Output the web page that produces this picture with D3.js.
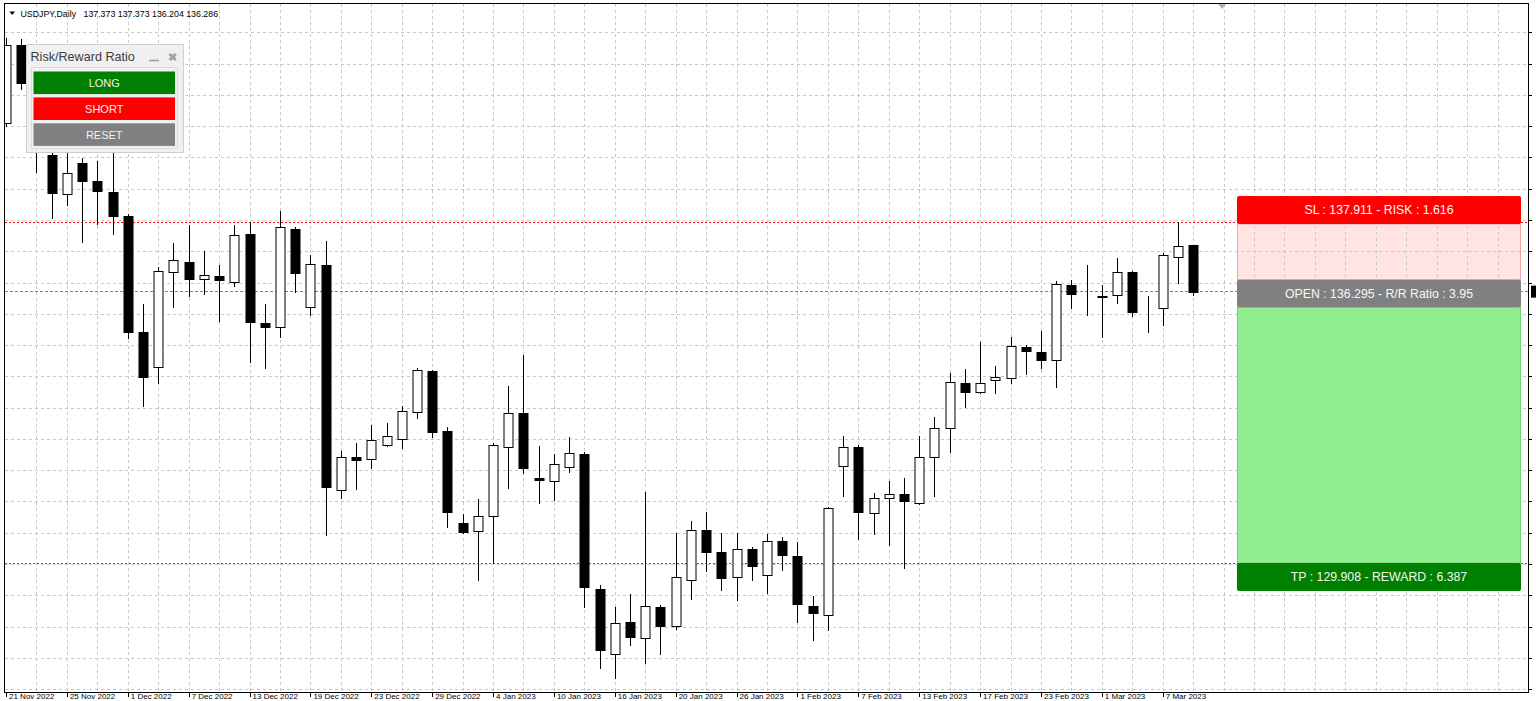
<!DOCTYPE html>
<html>
<head>
<meta charset="utf-8">
<script src="https://cdn.jsdelivr.net/npm/d3@7"></script>
<style>
html,body{margin:0;padding:0;background:#fff;overflow:hidden;}
svg{display:block;}
</style>
</head>
<body>
<svg id="chart" width="1536" height="701"></svg>
<script>
// ---------------- DATA ----------------
const dates = ["2022-11-21","2022-11-22","2022-11-23","2022-11-24","2022-11-25","2022-11-28","2022-11-29","2022-11-30","2022-12-01","2022-12-02",
"2022-12-05","2022-12-06","2022-12-07","2022-12-08","2022-12-09","2022-12-12","2022-12-13","2022-12-14","2022-12-15","2022-12-16",
"2022-12-19","2022-12-20","2022-12-21","2022-12-22","2022-12-23","2022-12-26","2022-12-27","2022-12-28","2022-12-29","2022-12-30",
"2023-01-02","2023-01-03","2023-01-04","2023-01-05","2023-01-06","2023-01-09","2023-01-10","2023-01-11","2023-01-12","2023-01-13",
"2023-01-16","2023-01-17","2023-01-18","2023-01-19","2023-01-20","2023-01-23","2023-01-24","2023-01-25","2023-01-26","2023-01-27",
"2023-01-30","2023-01-31","2023-02-01","2023-02-02","2023-02-03","2023-02-06","2023-02-07","2023-02-08","2023-02-09","2023-02-10",
"2023-02-13","2023-02-14","2023-02-15","2023-02-16","2023-02-17","2023-02-20","2023-02-21","2023-02-22","2023-02-23","2023-02-24",
"2023-02-27","2023-02-28","2023-03-01","2023-03-02","2023-03-03","2023-03-06","2023-03-07","2023-03-08","2023-03-09"];

const opens = [140.249,142.082,141.182,139.497,138.574,139.317,138.886,138.635,138.064,135.330,
134.522,136.740,136.990,136.576,136.653,136.520,137.641,135.556,135.462,137.751,
135.918,136.912,131.624,132.392,132.345,132.674,132.823,133.450,134.421,133.018,
130.856,130.667,131.013,132.628,133.441,131.899,131.843,132.172,132.470,129.297,
127.770,128.513,128.153,128.882,128.428,129.509,130.684,130.174,129.587,130.237,
129.626,130.433,130.080,128.905,128.686,132.195,132.642,131.076,131.443,131.530,
131.326,132.392,133.088,134.146,133.934,134.209,134.248,134.993,134.875,134.679,
136.442,136.207,136.190,136.207,136.740,135.926,135.909,137.093,137.373];

const highs = [142.247,142.216,141.600,139.800,139.600,139.419,139.363,139.800,138.110,135.995,
136.858,137.422,137.852,137.248,136.912,137.852,137.930,135.995,138.181,137.798,
137.147,137.483,132.541,132.722,133.152,133.192,133.605,134.484,134.444,133.097,
131.060,131.406,132.722,134.068,134.797,132.658,132.470,132.877,132.520,129.391,
128.882,129.172,131.584,128.920,130.620,130.903,131.114,130.606,130.620,130.290,
130.583,130.527,130.409,129.133,131.230,132.900,132.690,131.546,131.843,131.899,
132.900,133.333,134.367,134.468,135.109,134.546,135.228,135.030,135.361,136.536,
136.559,136.912,136.442,137.084,136.760,136.183,137.201,137.911,137.373];

const lows = [140.179,141.041,139.105,138.023,138.322,137.460,137.868,137.633,135.189,133.598,
134.132,135.932,136.191,136.223,135.596,136.418,134.639,134.499,135.227,136.284,
135.737,130.567,131.429,131.640,132.134,132.658,132.618,133.309,132.862,130.762,
130.620,129.509,129.915,131.678,132.016,131.311,131.389,132.054,128.867,127.448,
127.213,127.981,127.565,127.770,128.350,129.055,129.720,129.274,129.039,129.509,
129.196,129.744,128.529,128.099,128.334,131.490,130.472,130.583,130.332,129.798,
131.300,131.490,132.524,133.582,133.900,133.910,134.132,134.343,134.484,134.052,
135.894,135.737,135.227,136.012,135.721,135.344,135.502,136.482,136.204];

const closes = [142.082,141.182,139.600,138.611,139.067,138.886,138.651,138.071,135.330,134.287,
136.771,137.029,136.583,136.677,136.559,137.617,135.572,135.462,137.798,136.717,
136.928,131.702,132.407,132.329,132.799,132.900,133.481,134.444,132.994,131.100,
130.630,131.020,132.682,133.427,132.134,131.859,132.228,132.487,129.337,127.864,
128.505,128.176,128.898,128.435,129.587,130.684,130.174,129.563,130.237,129.838,
130.433,130.096,128.938,128.726,131.194,132.642,131.100,131.443,131.530,131.373,
132.407,133.074,134.155,133.934,134.146,134.272,135.017,134.899,134.679,136.465,
136.223,136.200,136.170,136.740,135.814,135.936,137.147,137.366,136.286];

const priceTicks = [126.945,127.680,128.415,129.150,129.885,130.620,131.355,132.090,132.825,133.560,
134.295,135.030,135.765,136.500,137.235,137.970,138.705,139.440,140.175,140.910,141.645,142.380];

const symbolTitle = "USDJPY,Daily";
const lastQuote = ["137.373","137.373","136.204","136.286"];

const slPrice = 137.911, openPrice = 136.295, tpPrice = 129.908;
const riskValue = "1.616", rewardValue = "6.387", rrRatio = "3.95";

const panelTitle = "Risk/Reward Ratio";
const buttonLabels = ["LONG","SHORT","RESET"];
const buttonColors = ["#008000","#ff0000","#808080"];

// ---------------- LAYOUT ----------------
const svg = d3.select("#chart");
const plotL = 5, plotR = 1528, plotT = 4, plotB = 692;
const x = d3.scaleLinear().domain([0, 100]).range([6, 1528]);
const y = d3.scaleLinear().domain([126.865, 143.046]).range([692.5, 4]);
const FONT = "'Liberation Sans', Arial, sans-serif";
const crisp = v => Math.round(v) + 0.5;

svg.append("rect").attr("width",1536).attr("height",701).attr("fill","#fff");

svg.append("defs").append("clipPath").attr("id","plotClip")
  .append("rect").attr("x",plotL).attr("y",plotT).attr("width",plotR-plotL).attr("height",plotB-plotT);

const plot = svg.append("g").attr("clip-path","url(#plotClip)");

// risk/reward box geometry (in bar units to the right of the last bar)
const boxFrom = 80.88, boxTo = 99.54;
const bx0 = Math.round(x(boxFrom)), bx1 = Math.round(x(boxTo));
const ySL = y(slPrice), yOP = y(openPrice), yTP = y(tpPrice);

// pink risk zone (background object)
plot.append("rect")
  .attr("x",bx0+0.5).attr("y",ySL+1.5).attr("width",bx1-bx0-1).attr("height",(yOP-11.5)-(ySL+1.5))
  .attr("fill","#ffe4e1").attr("stroke","#f2a3a3").attr("stroke-width",1);

// grid
const grid = plot.append("g").attr("stroke","#c8c8c8").attr("stroke-width",1).attr("stroke-dasharray","3,3");
grid.selectAll("line.h").data(priceTicks).join("line").attr("class","h")
  .attr("x1",plotL).attr("x2",plotR).attr("y1",d=>crisp(y(d))).attr("y2",d=>crisp(y(d)));
const vIdx = d3.range(2, 101, 2);
grid.selectAll("line.v").data(vIdx).join("line").attr("class","v")
  .attr("y1",plotT).attr("y2",plotB).attr("x1",d=>crisp(x(d))).attr("x2",d=>crisp(x(d)));

// level lines
const levels = [
  {p: slPrice, color:"#ff0000", dash:"2,2"},
  {p: openPrice, color:"#808080", dash:"3,2"},
  {p: tpPrice, color:"#0a9a0a", dash:"2,2"}
];
plot.selectAll("line.lvl").data(levels).join("line").attr("class","lvl")
  .attr("x1",plotL).attr("x2",plotR)
  .attr("y1",d=>crisp(y(d.p))).attr("y2",d=>crisp(y(d.p)))
  .attr("stroke",d=>d.color).attr("stroke-dasharray",d=>d.dash);

// candles
const bars = dates.map((d,i)=>({i, o:opens[i], h:highs[i], l:lows[i], c:closes[i]}));
const cg = plot.append("g");
cg.selectAll("line.wick").data(bars).join("line").attr("class","wick")
  .attr("x1",d=>crisp(x(d.i))).attr("x2",d=>crisp(x(d.i)))
  .attr("y1",d=>Math.round(y(d.h))).attr("y2",d=>Math.round(y(d.l))+1)
  .attr("stroke","#000");
cg.selectAll("rect.body").data(bars).join("rect").attr("class","body")
  .attr("x",d=>crisp(x(d.i))-4.5).attr("width",9)
  .attr("y",d=>crisp(y(Math.max(d.o,d.c))))
  .attr("height",d=>Math.max(0, crisp(y(Math.min(d.o,d.c))) - crisp(y(Math.max(d.o,d.c)))))
  .attr("fill",d=>d.c>=d.o?"#fff":"#000").attr("stroke","#000");

// green reward zone
plot.append("rect")
  .attr("x",bx0+0.5).attr("y",yOP+16).attr("width",bx1-bx0-1).attr("height",yTP-(yOP+16))
  .attr("fill","#90ee90").attr("stroke","#6fd36f").attr("stroke-width",1);

// labels of the box
const boxLabels = [
  {y0: ySL-26.5, y1: ySL+1.5, fill:"#ff0000", text:`SL : ${slPrice.toFixed(3)} - RISK : ${riskValue}`},
  {y0: yOP-11.5, y1: yOP+16, fill:"#808080", text:`OPEN : ${openPrice.toFixed(3)} - R/R Ratio : ${rrRatio}`},
  {y0: yTP, y1: yTP+28, fill:"#008000", text:`TP : ${tpPrice.toFixed(3)} - REWARD : ${rewardValue}`}
];
const bl = plot.selectAll("g.blab").data(boxLabels).join("g").attr("class","blab");
bl.append("rect").attr("x",bx0).attr("width",bx1-bx0)
  .attr("y",d=>d.y0).attr("height",d=>d.y1-d.y0).attr("rx",2).attr("fill",d=>d.fill);
bl.append("text").attr("x",(bx0+bx1)/2).attr("y",d=>(d.y0+d.y1)/2+4.3)
  .attr("text-anchor","middle").attr("font-family",FONT).attr("font-size","12.3px")
  .attr("fill","#f8f8f8").text(d=>d.text);

// frame
svg.append("rect").attr("x",plotL-0.5).attr("y",plotT-0.5).attr("width",plotR-plotL+1).attr("height",plotB-plotT+1)
  .attr("fill","none").attr("stroke","#000");

// x-axis ticks and labels
const fmt = d3.timeFormat("%-d %b %Y");
const parse = d3.timeParse("%Y-%m-%d");
const xTicks = bars.filter(b=>b.i%4===0);
svg.selectAll("line.xt").data(xTicks).join("line").attr("class","xt")
  .attr("x1",d=>crisp(x(d.i))).attr("x2",d=>crisp(x(d.i)))
  .attr("y1",plotB+1).attr("y2",plotB+5).attr("stroke","#000");
svg.selectAll("text.xl").data(xTicks).join("text").attr("class","xl")
  .attr("x",d=>x(d.i)+3).attr("y",699.2)
  .attr("font-family",FONT).attr("font-size","8px").attr("fill","#000")
  .text(d=>fmt(parse(dates[d.i])));

// price axis ticks (labels fall outside the window)
svg.selectAll("line.yt").data(priceTicks).join("line").attr("class","yt")
  .attr("x1",plotR+0.5).attr("x2",plotR+4).attr("y1",d=>crisp(y(d))).attr("y2",d=>crisp(y(d)))
  .attr("stroke","#000");
// current price marker
svg.append("rect").attr("x",plotR+3).attr("y",y(+lastQuote[3])-6).attr("width",10).attr("height",12).attr("fill","#000");

// chart shift marker
const sx = x(79.9);
svg.append("path").attr("d",`M${sx-4},${plotT} L${sx+4},${plotT} L${sx},${plotT+5} Z`).attr("fill","#b0b0b0");

// title
svg.append("path").attr("d","M9.5,11.5 L15,11.5 L12.25,15 Z").attr("fill","#000");
svg.append("text").attr("x",20.5).attr("y",16.5).attr("font-family",FONT).attr("font-size","8.8px")
  .attr("fill","#000").text(symbolTitle);
svg.append("text").attr("x",83.5).attr("y",16.5).attr("font-family",FONT).attr("font-size","8.8px")
  .attr("fill","#000").text(lastQuote.join(" "));

// Risk/Reward panel
const panel = svg.append("g");
panel.append("rect").attr("x",26.5).attr("y",44.5).attr("width",157).attr("height",108)
  .attr("fill","#f0f0f0").attr("stroke","#cfcfcf");
panel.append("text").attr("x",30.5).attr("y",61).attr("font-family",FONT).attr("font-size","12.6px")
  .attr("fill","#3c3c3c").text(panelTitle);
panel.append("line").attr("x1",149).attr("x2",159).attr("y1",60.5).attr("y2",60.5).attr("stroke","#9a9a9a").attr("stroke-width",1.5);
panel.append("text").attr("x",172).attr("y",61).attr("text-anchor","middle").attr("font-family",FONT)
  .attr("font-size","11px").attr("font-weight","bold").attr("fill","#a0a0a0").text("✖");
panel.append("rect").attr("x",31.5).attr("y",67.5).attr("width",146).attr("height",81)
  .attr("fill","#f0f0f0").attr("stroke","#dcdcdc");
const btn = panel.selectAll("g.btn").data(buttonLabels).join("g").attr("class","btn");
btn.append("rect").attr("x",33.5).attr("width",141.5)
  .attr("y",(d,i)=>71.5+i*25.9).attr("height",22.6).attr("fill",(d,i)=>buttonColors[i]);
btn.append("text").attr("x",104.25).attr("y",(d,i)=>71.5+i*25.9+15.3).attr("text-anchor","middle")
  .attr("font-family",FONT).attr("font-size","11px").attr("fill","#f2f2f2").text(d=>d);
</script>
</body>
</html>
